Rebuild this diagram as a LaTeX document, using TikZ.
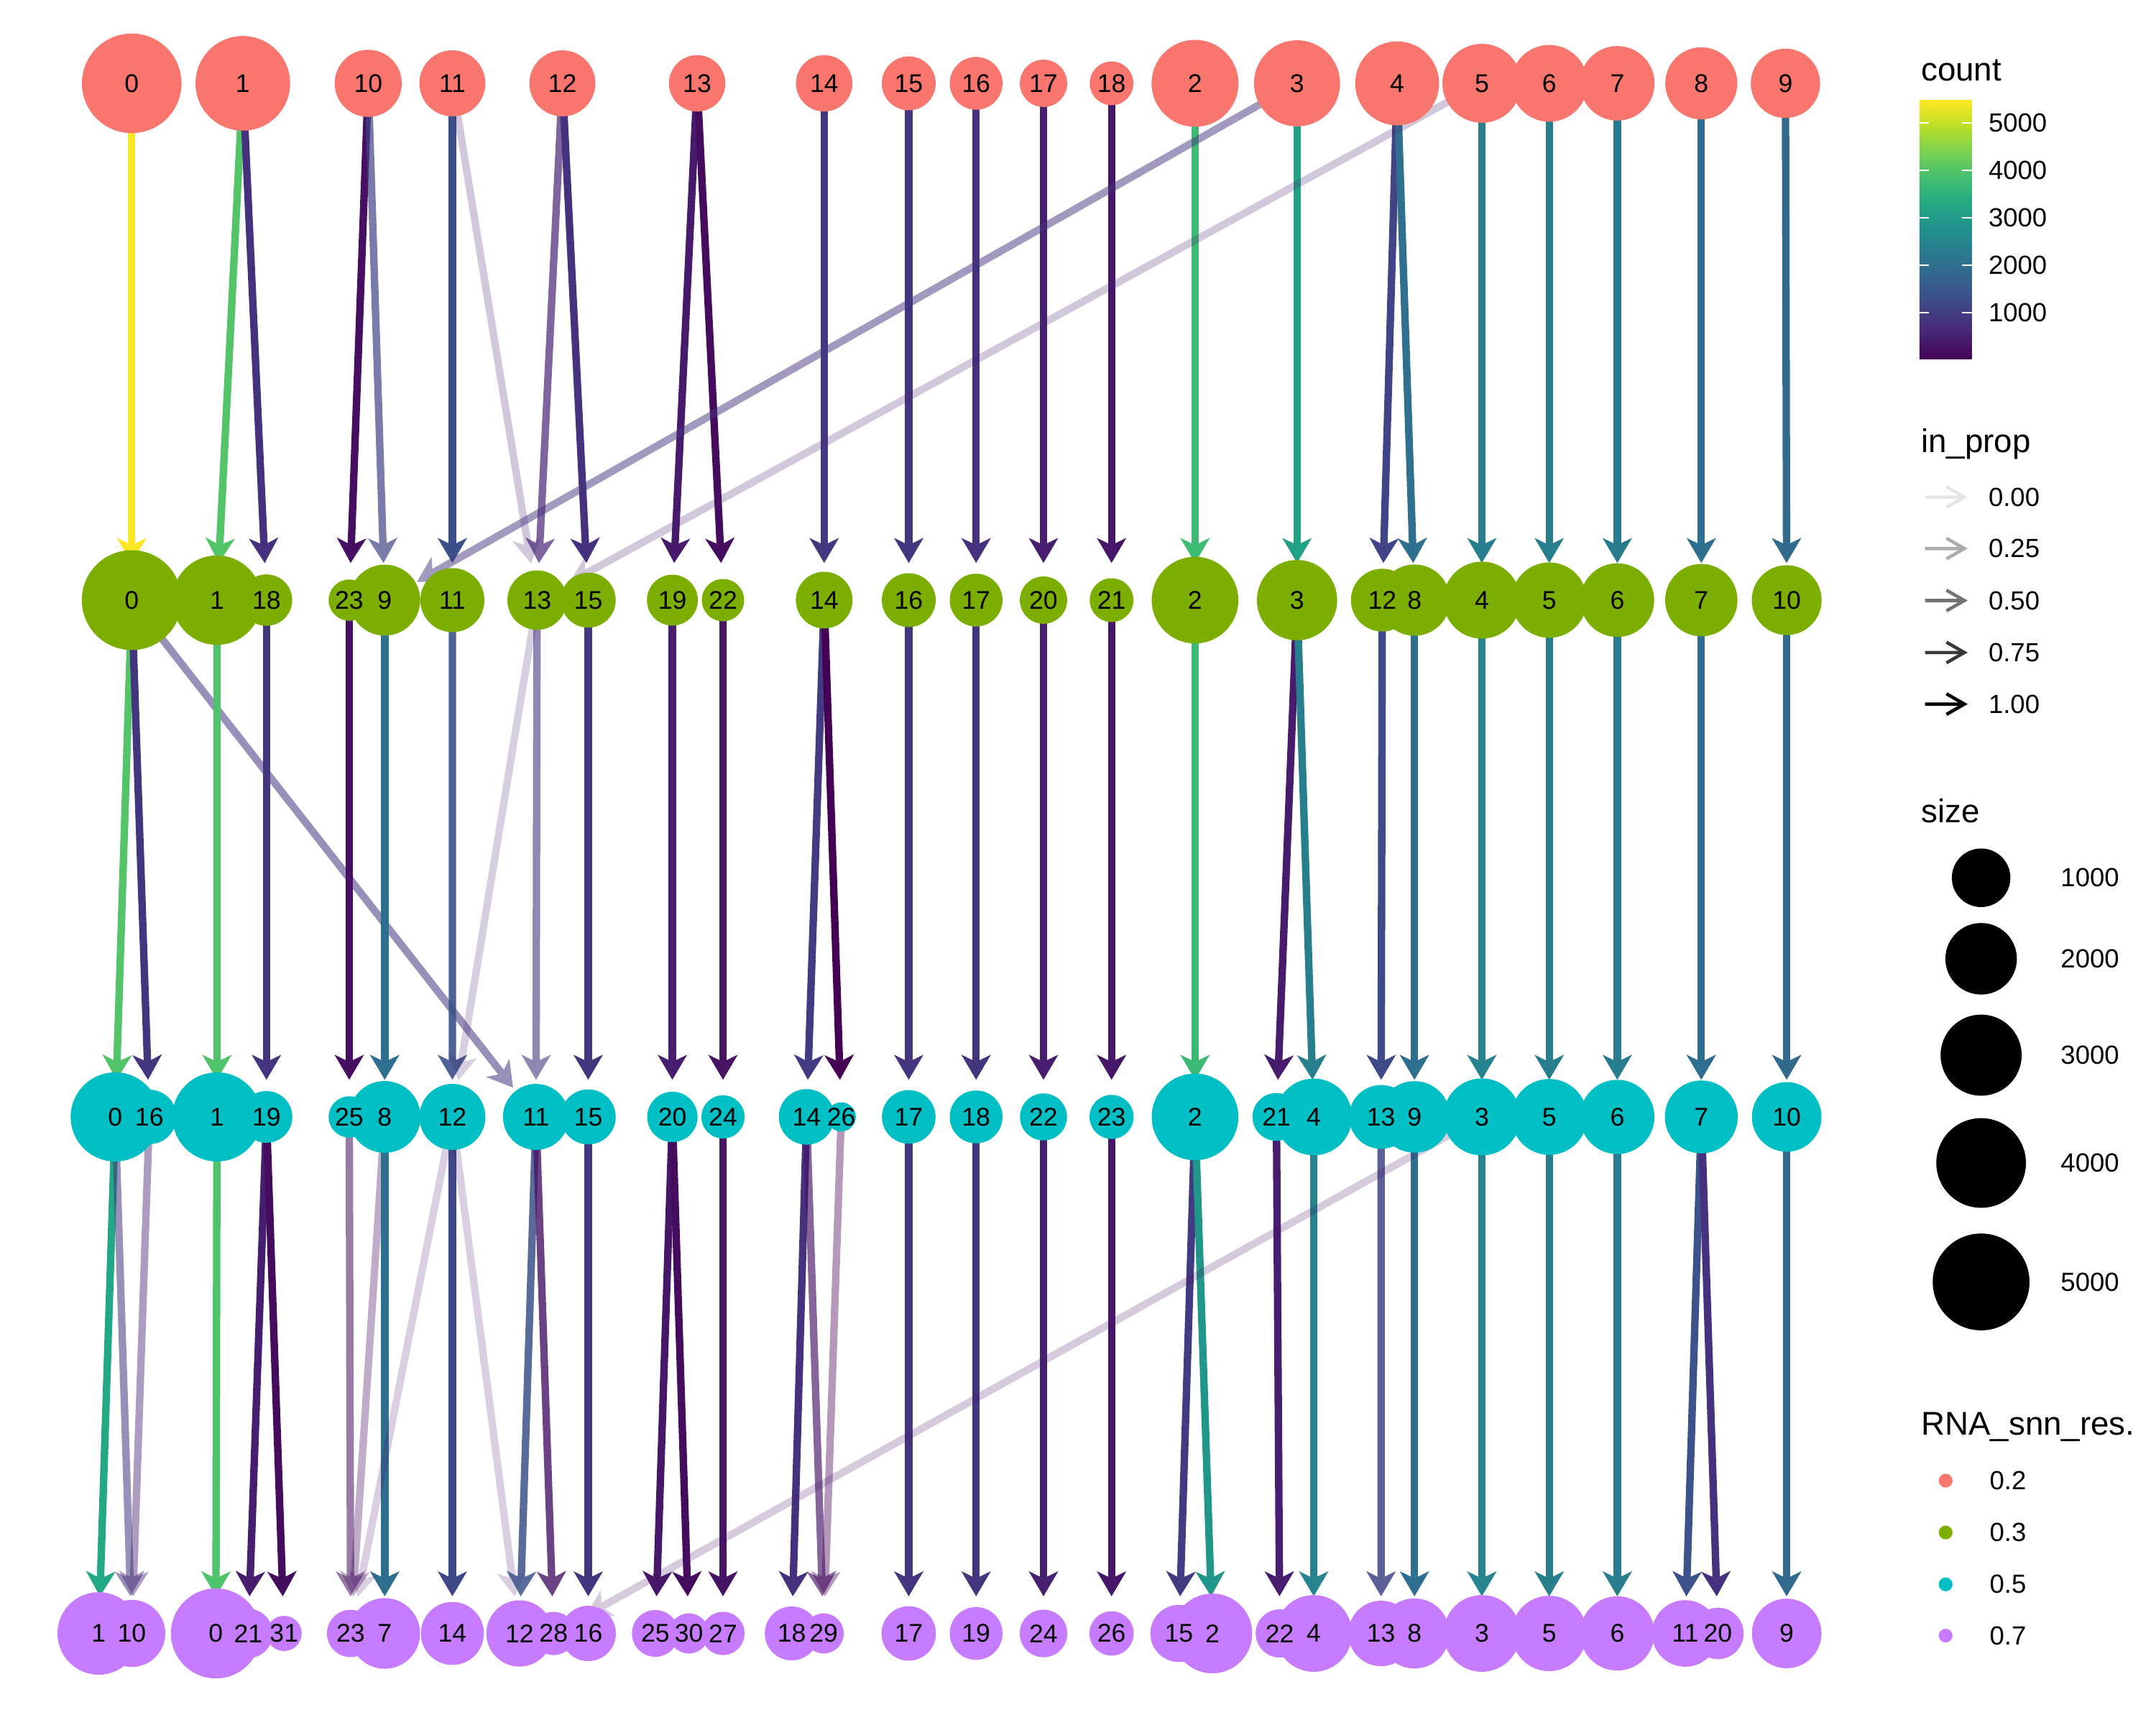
\documentclass[tikz,border=0pt]{standalone}
\usepackage{fontspec}
\setmainfont{Liberation Sans}
\usetikzlibrary{arrows.meta}

% viridis stops
\definecolor{v0}{HTML}{440154}
\definecolor{v1}{HTML}{482576}
\definecolor{v2}{HTML}{414487}
\definecolor{v3}{HTML}{35608D}
\definecolor{v4}{HTML}{2A788E}
\definecolor{v5}{HTML}{21908C}
\definecolor{v6}{HTML}{22A884}
\definecolor{v7}{HTML}{43BF71}
\definecolor{v8}{HTML}{7AD151}
\definecolor{v9}{HTML}{BBDF27}
\definecolor{v10}{HTML}{FDE725}
% resolution colours
\definecolor{resA}{HTML}{F8766D}
\definecolor{resB}{HTML}{7CAE00}
\definecolor{resC}{HTML}{00BFC4}
\definecolor{resD}{HTML}{C77CFF}

\pgfdeclarelayer{bg}
\pgfdeclarelayer{edges}
\pgfdeclarelayer{labels}
\pgfsetlayers{bg,edges,main,labels}

\newcommand{\legtitle}{\fontsize{23.9}{26}\selectfont}
\newcommand{\leglabel}{\fontsize{19.1}{21}\selectfont}
\newcommand{\nodefont}{\fontsize{18.6}{20}\selectfont}

% cluster node: colour, name, text, x, y, radius
\newcommand{\cnode}[6]{%
  \pgfmathsetmacro{\cdiam}{2*#6}%
  \node[cnode, fill=#1, minimum size=\cdiam pt] (#2) at (#4,#5) {};
  \begin{pgfonlayer}{labels}\node[nlabel] (#2l) at (#2.center) {#3};\end{pgfonlayer}}

% edge: from, to, colour, alpha
\newcommand{\cedge}[4]{%
  \ifdim#4pt<1pt
    \begin{scope}[transparency group, opacity=#4]
      \draw[edge, draw=#3] (#1.center) -- (#2.center);
    \end{scope}
  \else
    \draw[edge, draw=#3] (#1.center) -- (#2.center);
  \fi}

\begin{document}
\begin{tikzpicture}[x=1pt, y=-1pt,
  cnode/.style={circle, draw=none, inner sep=0pt, outer sep=0pt},
  nlabel/.style={inner sep=0pt, text=black, font=\nodefont},
  edge/.style={line width=5.4pt, line join=miter, shorten >=27pt,
    -{Stealth[length=18pt, width=21pt, inset=5pt, sharp]}},
  legarrow/.style={line width=2.4pt, line join=miter,
    -{Straight Barb[length=13pt, width=15pt, sharp]}},
  ltitle/.style={anchor=base west, inner sep=0pt, font=\legtitle},
  llabel/.style={anchor=west, inner sep=0pt, font=\leglabel}]

\begin{pgfonlayer}{bg}
\fill[white] (0,0) rectangle (1568,1254.4);
\end{pgfonlayer}
\useasboundingbox (0,0) rectangle (1568,1254.4);

% ---- resolution 0.2
\foreach \n/\x/\r in {0/95.8/36.2, 1/176.6/34.4, 10/267.8/24.4, 11/329/24, 12/409/24,
  13/507/20.5, 14/599.4/20.5, 15/660.9/19.6, 16/709.9/19.2, 17/758.9/17.2, 18/808.4/15.9,
  2/869.1/31.6, 3/943.3/31.3, 4/1016.1/30.5, 5/1077.7/28.7, 6/1126.7/27.9, 7/1176.2/27.1,
  8/1237.3/26.2, 9/1298.5/25.2}
  \cnode{resA}{p\n}{\n}{\x}{60.6}{\r};

% ---- resolution 0.3
\foreach \n/\x/\r in {0/95.8/36.3, 1/157.8/32.5, 18/193.8/18.7, 23/254/15, 9/279.8/25.8,
  11/329/23.3, 13/390.6/21.6, 15/427.8/20, 19/489/18.5, 22/525.8/15.4, 14/599.4/20.6,
  16/660.9/19.6, 17/709.9/19.2, 20/758.9/17.2, 21/808.4/15.9, 2/869.1/31.5, 3/943.3/29.2,
  12/1005.3/22.8, 8/1028.7/25.9, 4/1077.7/28, 5/1126.7/27.4, 6/1176.2/26.8, 7/1237.3/26.3,
  10/1299.4/25.4}
  \cnode{resB}{q\n}{\n}{\x}{436.4}{\r};

% ---- resolution 0.5
\foreach \n/\x/\r in {0/83.8/32.4, 16/108.6/19.8, 1/157.8/32.4, 19/193.8/18.8, 25/254/15,
  8/279.8/26.1, 12/329/24, 11/389.8/24, 15/427.8/20, 20/489/18.3, 24/525.8/15.7,
  14/586.6/20.2, 26/611.8/10.6, 17/660.9/19.5, 18/709.9/19.2, 22/758.9/17.1, 23/808.4/16,
  2/869.1/31.5, 21/928.3/17.4, 4/955.4/27.9, 13/1004.4/23.2, 9/1028.7/26, 3/1077.7/28,
  5/1126.7/27.6, 6/1176.2/27, 7/1237.3/26.5, 10/1299.4/25.3}
  \cnode{resC}{s\n}{\n}{\x}{812.2}{\r};

% ---- resolution 0.7
\foreach \n/\x/\r in {1/71.8/30, 10/95.8/24.4, 0/157/32.7, 21/180.5/17.9, 31/206.6/12.8,
  23/255/17.2, 7/279.8/25.7, 14/329/22.9, 12/377.8/24.1, 28/402.6/15.7, 16/427.8/20.1,
  25/476.6/17, 30/501/14.6, 27/525.8/15.7, 18/575.8/19.6, 29/599/14.6, 17/660.9/19.8,
  19/709.9/19.2, 24/758.9/17.3, 26/808.4/16.1, 15/857.4/20.8, 2/881.7/29, 22/930.7/17.5,
  4/955.4/27.9, 13/1004.4/23.8, 8/1028.7/25.5, 3/1077.7/27.9, 5/1126.7/27.4, 6/1176.2/27,
  11/1225.6/24.2, 20/1249.4/18.7, 9/1299.4/25.3}
  \cnode{resD}{t\n}{\n}{\x}{1187.8}{\r};

% ---- edges (colour = count, opacity = in_prop)
\begin{pgfonlayer}{edges}
\foreach \a/\b/\c/\o in {
  p0/q0/v10/1, p1/q1/v7!70!v8/1, p1/q18/v1!60!v2/1, p10/q23/v0!60!v1/1, p10/q9/v2/0.7,
  p11/q11/v2!60!v3/1, p11/q13/v1/0.25, p12/q13/v1/0.7, p12/q15/v1!60!v2/1,
  p13/q19/v0!30!v1/1, p13/q22/v0!70!v1/1, p14/q14/v1!40!v2/1, p15/q16/v1!50!v2/1,
  p16/q17/v1!60!v2/1, p17/q20/v0!20!v1/1, p18/q21/v0!40!v1/1, p2/q2/v7!85!v6/1,
  p3/q3/v6!70!v5/1, p3/q9/v1!50!v2/0.5, p4/q12/v2/1, p4/q8/v4!65!v3/1,
  p5/q4/v4!70!v5/1, p5/q13/v1/0.25, p6/q5/v4!70!v5/1, p7/q6/v4!85!v5/1,
  p8/q7/v4!60!v3/1, p9/q10/v3!60!v4/1,
  q0/s0/v7!70!v8/1, q0/s16/v1!50!v2/1, q0/s11/v1!50!v2/0.55, q1/s1/v7!80!v8/1,
  q18/s19/v1!50!v2/1, q23/s25/v0!60!v1/1, q9/s8/v4!60!v3/1, q11/s12/v2!50!v3/0.9,
  q13/s11/v1!40!v2/0.6, q13/s12/v1/0.22, q15/s15/v1!50!v2/1, q19/s20/v0!20!v1/1,
  q22/s24/v0!50!v1/1, q14/s14/v1!30!v2/1, q14/s26/v0/1, q16/s17/v1!50!v2/1,
  q17/s18/v1!50!v2/1, q20/s22/v0!20!v1/1, q21/s23/v0!40!v1/1, q2/s2/v7!80!v6/1,
  q3/s21/v0!25!v1/1, q3/s4/v4!70!v5/1, q12/s13/v2!80!v3/1, q8/s9/v4!60!v3/1,
  q4/s3/v4!50!v5/1, q5/s5/v4!70!v5/1, q6/s6/v4!80!v5/1, q7/s7/v4!60!v3/1,
  q10/s10/v3!60!v4/1,
  s0/t1/v6/1, s0/t10/v1!50!v2/0.55, s16/t10/v1/0.45, s1/t0/v7!80!v8/1,
  s19/t21/v0!20!v1/1, s19/t31/v0!70!v1/1, s25/t23/v0!60!v1/0.55, s8/t23/v0!50!v1/0.35,
  s8/t7/v4!60!v3/1, s12/t23/v0!50!v1/0.2, s12/t14/v2!90!v3/1, s12/t12/v0!50!v1/0.2,
  s11/t12/v2!50!v3/0.85, s11/t28/v0!50!v1/0.8, s15/t16/v1!50!v2/1, s20/t25/v0!40!v1/1,
  s20/t30/v0!70!v1/1, s24/t27/v0!50!v1/1, s14/t18/v1!60!v2/1, s14/t29/v0!50!v1/0.65,
  s26/t29/v0/0.4, s17/t17/v1!50!v2/1, s18/t19/v1!50!v2/1, s22/t24/v0!15!v1/1,
  s23/t26/v0!40!v1/1, s2/t15/v1!30!v2/1, s2/t2/v5!75!v6/1, s21/t22/v0!20!v1/1,
  s4/t4/v4!50!v5/1, s13/t13/v2/0.85, s9/t8/v4!60!v3/1, s3/t3/v4!50!v5/1,
  s3/t28/v0!50!v1/0.22, s5/t5/v4!70!v5/1, s6/t6/v4!80!v5/1, s7/t11/v2!50!v3/1,
  s7/t20/v1!60!v2/1, s10/t9/v3!60!v4/1}
  \cedge{\a}{\b}{\c}{\o};
\end{pgfonlayer}

% ---- legend: count
\node[ltitle] (tcount) at (1397,58.9) {count};
\foreach \i [evaluate=\i as \j using int(\i+1)] in {0,...,9}
  \shade[bottom color=v\i, top color=v\j] (1396,{261-18.8*\i+0.2}) rectangle (1434,{261-18.8*(\i+1)-0.2});
\foreach \v/\y in {5000/89.2, 4000/123.7, 3000/158.2, 2000/192.8, 1000/227.3} {
  \draw[white, line width=1pt] (1396,\y) -- (1403,\y) (1427,\y) -- (1434,\y);
  \node[llabel] (cl\v) at (1446,\y) {\v};
}

% ---- legend: in_prop
\node[ltitle] (tprop) at (1397,328.8) {in\_prop};
\foreach \k/\lab/\a/\y in {1/0.00/0.1/361.5, 2/0.25/0.325/398.9, 3/0.50/0.55/436.7,
  4/0.75/0.775/474.5, 5/1.00/1/512} {
  \coordinate (ka\k) at (1400,\y);
  \coordinate (kb\k) at (1431,\y);
  \begin{scope}[transparency group, opacity=\a]
    \draw[legarrow, black] (ka\k) -- (kb\k);
  \end{scope}
  \node[llabel] (pl\k) at (1446,\y) {\lab};
}

% ---- legend: size
\node[ltitle] (tsize) at (1397,598.3) {size};
\foreach \v/\y/\r in {1000/638.3/21.3, 2000/697.2/26, 3000/767.3/29.5, 4000/845.7/32.6, 5000/932.2/35.2} {
  \pgfmathsetmacro{\cdiam}{2*\r}
  \node[cnode, fill=black, minimum size=\cdiam pt] (sz\v) at (1440.8,\y) {};
  \node[llabel] (szl\v) at (1498.5,\y) {\v};
}

% ---- legend: resolution
\node[ltitle] (tres) at (1397,1043.5) {RNA\_snn\_res.};
\foreach \k/\lab/\c/\y in {1/0.2/resA/1076.7, 2/0.3/resB/1114.4, 3/0.5/resC/1152.1, 4/0.7/resD/1189.4} {
  \node[cnode, fill=\c, minimum size=10pt] (rd\k) at (1415,\y) {};
  \node[llabel] (rl\k) at (1446.8,\y) {\lab};
}

\end{tikzpicture}
\end{document}
